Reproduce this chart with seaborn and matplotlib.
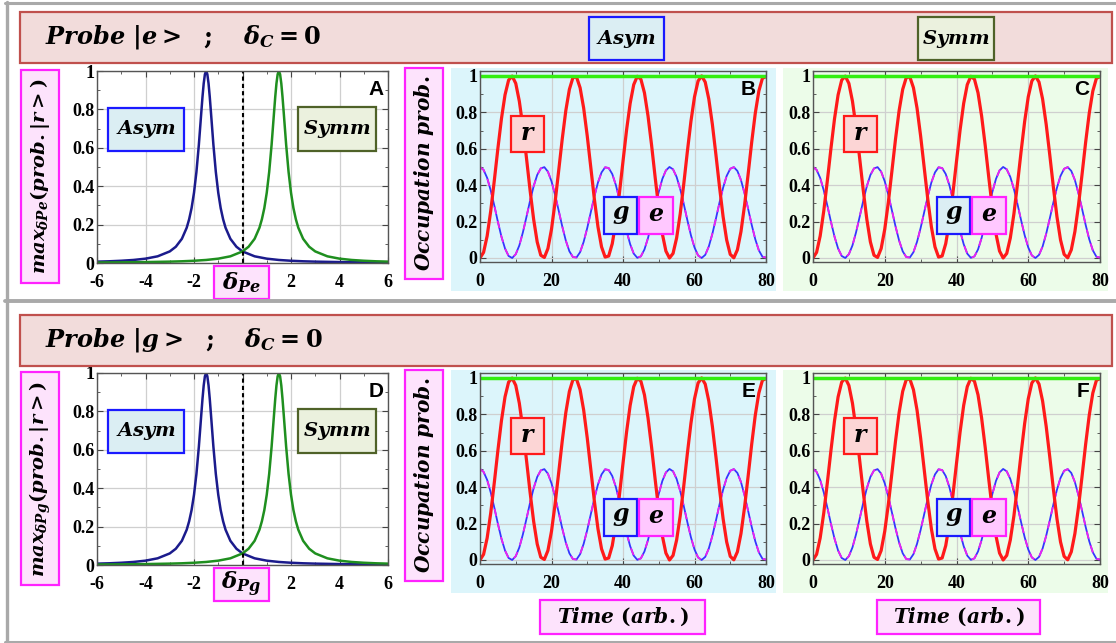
import matplotlib
matplotlib.use("Agg")
import matplotlib.pyplot as plt
import seaborn as sns
from matplotlib.patches import Rectangle
from matplotlib.lines import Line2D
from matplotlib.ticker import MultipleLocator, FuncFormatter

# ---------------- data ----------------
detuning_asym = [-6.0, -5.5, -5.0, -4.5, -4.0, -3.5, -3.0, -2.75, -2.5, -2.3, -2.2, -2.1,
                 -2.0, -1.9, -1.8, -1.7, -1.65, -1.6, -1.55, -1.5, -1.45, -1.4, -1.35,
                 -1.3, -1.2, -1.1, -1.0, -0.9, -0.8, -0.7, -0.5, -0.25, 0.0, 0.5, 1.0,
                 1.5, 2.0, 2.5, 3.0, 4.0, 5.0, 6.0]
prob_asym = [0.0071, 0.0089, 0.0117, 0.0158, 0.0226, 0.0348, 0.0603, 0.0846, 0.126, 0.184,
             0.228, 0.286, 0.366, 0.474, 0.616, 0.783, 0.865, 0.935, 0.983, 1.0, 0.983,
             0.935, 0.865, 0.783, 0.616, 0.474, 0.366, 0.286, 0.228, 0.184, 0.126, 0.0846,
             0.0603, 0.0348, 0.0226, 0.0158, 0.0117, 0.0089, 0.0071, 0.0048, 0.0034, 0.0026]
detuning_symm = [-6.0, -5.0, -4.0, -3.0, -2.5, -2.0, -1.5, -1.0, -0.5, 0.0, 0.25, 0.5, 0.7,
                 0.8, 0.9, 1.0, 1.1, 1.2, 1.3, 1.35, 1.4, 1.45, 1.5, 1.55, 1.6, 1.65, 1.7,
                 1.8, 1.9, 2.0, 2.1, 2.2, 2.3, 2.5, 2.75, 3.0, 3.5, 4.0, 4.5, 5.0, 5.5, 6.0]
prob_symm = [0.0026, 0.0034, 0.0048, 0.0071, 0.0089, 0.0117, 0.0158, 0.0226, 0.0348, 0.0603,
             0.0846, 0.126, 0.184, 0.228, 0.286, 0.366, 0.474, 0.616, 0.783, 0.865, 0.935,
             0.983, 1.0, 0.983, 0.935, 0.865, 0.783, 0.616, 0.474, 0.366, 0.286, 0.228,
             0.184, 0.126, 0.0846, 0.0603, 0.0348, 0.0226, 0.0158, 0.0117, 0.0089, 0.0071]

time = list(range(81))
prob_r = [0.000, 0.031, 0.121, 0.258, 0.425, 0.601, 0.765, 0.896, 0.977, 0.999,
          0.959, 0.861, 0.719, 0.549, 0.373, 0.213, 0.088, 0.015, 0.003, 0.052,
          0.158, 0.306, 0.478, 0.653, 0.809, 0.926, 0.991, 0.994, 0.935, 0.823,
          0.670, 0.496, 0.322, 0.171, 0.061, 0.005, 0.011, 0.079, 0.198, 0.356,
          0.531, 0.703, 0.849, 0.952, 0.998, 0.982, 0.907, 0.780, 0.619, 0.442,
          0.273, 0.133, 0.038, 0.000, 0.025, 0.110, 0.242, 0.407, 0.584, 0.750,
          0.885, 0.972, 1.000, 0.966, 0.873, 0.734, 0.566, 0.390, 0.227, 0.099,
          0.020, 0.001, 0.045, 0.145, 0.289, 0.460, 0.636, 0.795, 0.917, 0.987,
          0.996]
prob_g = [0.500, 0.484, 0.440, 0.371, 0.288, 0.199, 0.117, 0.052, 0.011, 0.000,
          0.021, 0.069, 0.141, 0.226, 0.314, 0.394, 0.456, 0.492, 0.499, 0.474,
          0.421, 0.347, 0.261, 0.174, 0.096, 0.037, 0.005, 0.003, 0.032, 0.089,
          0.165, 0.252, 0.339, 0.415, 0.470, 0.498, 0.494, 0.461, 0.401, 0.322,
          0.235, 0.149, 0.076, 0.024, 0.001, 0.009, 0.047, 0.110, 0.191, 0.279,
          0.363, 0.434, 0.481, 0.500, 0.487, 0.445, 0.379, 0.296, 0.208, 0.125,
          0.058, 0.014, 0.000, 0.017, 0.063, 0.133, 0.217, 0.305, 0.386, 0.451,
          0.490, 0.499, 0.478, 0.428, 0.355, 0.270, 0.182, 0.103, 0.042, 0.007,
          0.002]
prob_e = [0.500, 0.484, 0.440, 0.371, 0.288, 0.199, 0.117, 0.052, 0.011, 0.000,
          0.021, 0.069, 0.141, 0.226, 0.314, 0.394, 0.456, 0.492, 0.499, 0.474,
          0.421, 0.347, 0.261, 0.174, 0.096, 0.037, 0.005, 0.003, 0.032, 0.089,
          0.165, 0.252, 0.339, 0.415, 0.470, 0.498, 0.494, 0.461, 0.401, 0.322,
          0.235, 0.149, 0.076, 0.024, 0.001, 0.009, 0.047, 0.110, 0.191, 0.279,
          0.363, 0.434, 0.481, 0.500, 0.487, 0.445, 0.379, 0.296, 0.208, 0.125,
          0.058, 0.014, 0.000, 0.017, 0.063, 0.133, 0.217, 0.305, 0.386, 0.451,
          0.490, 0.499, 0.478, 0.428, 0.355, 0.270, 0.182, 0.103, 0.042, 0.007,
          0.002]
total_time = [0, 80]
total_prob = [1.0, 1.0]

row_titles = [r"$Probe\ |e>\ \ ;\ \ \ \delta_C = 0$", r"$Probe\ |g>\ \ ;\ \ \ \delta_C = 0$"]
det_labels = [r"$\delta_{Pe}$", r"$\delta_{Pg}$"]
max_labels = [r"$max_{\delta Pe}(prob.|r>)$", r"$max_{\delta Pg}(prob.|r>)$"]
panel_letters = [["A", "B", "C"], ["D", "E", "F"]]

# ---------------- style ----------------
sns.set_style("ticks")
plt.rcParams["font.family"] = ["Liberation Serif", "DejaVu Sans"]
plt.rcParams.update({
    "font.weight": "bold",
    "text.color": "black",
    "xtick.color": "black",
    "ytick.color": "black",
    "axes.unicode_minus": False,
    "mathtext.fontset": "custom",
    "mathtext.it": "DejaVu Serif:italic:bold",
    "mathtext.rm": "DejaVu Serif:bold",
    "mathtext.bf": "DejaVu Serif:italic:bold",
})

W, H = 1116, 643
fig = plt.figure(figsize=(W / 100, H / 100), dpi=100)


def rect_px(x0, y0, x1, y1):
    return [x0 / W, 1 - y1 / H, (x1 - x0) / W, (y1 - y0) / H]


def box(x0, y0, x1, y1, fc, ec, lw=1.6, z=2):
    fig.add_artist(Rectangle((x0 / W, 1 - y1 / H), (x1 - x0) / W, (y1 - y0) / H,
                             transform=fig.transFigure, facecolor=fc, edgecolor=ec,
                             linewidth=lw, zorder=z))


def boxed_text(x0, y0, x1, y1, s, fc, ec, size, rot=0, lw=1.6, z=3):
    box(x0, y0, x1, y1, fc, ec, lw, z)
    fig.text((x0 + x1) / 2 / W, 1 - (y0 + y1) / 2 / H, s, ha="center", va="center",
             rotation=rot, fontsize=size, zorder=z + 0.5, color="black")


def hline(x0, x1, y, lw, color="#a9a9a9"):
    fig.add_artist(Line2D([x0 / W, x1 / W], [1 - y / H, 1 - y / H], transform=fig.transFigure,
                          color=color, lw=lw, zorder=5))


def vline(x, y0, y1, lw, color="#a9a9a9"):
    fig.add_artist(Line2D([x / W, x / W], [1 - y0 / H, 1 - y1 / H], transform=fig.transFigure,
                          color=color, lw=lw, zorder=5))


fmt = FuncFormatter(lambda v, p: "%g" % round(v, 2))
fmt_det = FuncFormatter(lambda v, p: "" if abs(v) < 1e-9 else "%g" % round(v, 2))


def style_axes(ax, xmaj, xmin, xfmt=fmt):
    ax.set_facecolor("none")
    ax.xaxis.set_major_locator(MultipleLocator(xmaj))
    ax.xaxis.set_minor_locator(MultipleLocator(xmin))
    ax.yaxis.set_major_locator(MultipleLocator(0.2))
    ax.yaxis.set_minor_locator(MultipleLocator(0.1))
    ax.xaxis.set_major_formatter(xfmt)
    ax.yaxis.set_major_formatter(fmt)
    ax.tick_params(which="both", direction="in", top=True, right=True, color="#444444",
                   labelcolor="black")
    ax.tick_params(which="major", length=4, width=0.8, labelsize=13)
    ax.tick_params(which="minor", length=2, width=0.6)
    ax.tick_params(axis="x", which="major", pad=8)
    ax.tick_params(axis="y", which="major", pad=2)
    ax.grid(which="major", color="#cfcfcf", lw=0.9)
    ax.set_axisbelow(True)
    for s in ax.spines.values():
        s.set_color("#555555")
        s.set_linewidth(1.0)
    ax.set_xlabel("")
    ax.set_ylabel("")


# outer frame
hline(5, W, 3, 2.2)
hline(5, W, 301, 2.8)
hline(5, W, 641.5, 2.2)
vline(6.5, 2, 643, 2.4)

for row in range(2):
    dy = 0 if row == 0 else 302
    hdy = 0 if row == 0 else 303

    # header bar
    box(20, 12 + hdy, 1112, 63 + hdy, "#f2dcdb", "#c0504d", lw=1.6, z=1)
    fig.text(45 / W, 1 - (37 + hdy) / H, row_titles[row], ha="left", va="center",
             fontsize=17.3, zorder=2, color="black")
    if row == 0:
        boxed_text(589, 17, 664, 60, r"$Asym$", "#dbeef3", "#1a1aff", 14)
        boxed_text(918, 17, 994, 60, r"$Symm$", "#ebf1de", "#4f6228", 14)

    # ---- left panel: max probability vs detuning ----
    axL = fig.add_axes(rect_px(97, 71 + dy, 388, 263 + dy))
    sns.lineplot(x=detuning_asym, y=prob_asym, ax=axL, color="#1b1b8c", linewidth=1.8,
                 estimator=None, sort=False)
    sns.lineplot(x=detuning_symm, y=prob_symm, ax=axL, color="#1f8f1f", linewidth=1.8,
                 estimator=None, sort=False)
    axL.axvline(0, color="black", lw=1.5, ls=(0, (2, 1.5)))
    axL.set_xlim(-6, 6)
    axL.set_ylim(0, 1)
    style_axes(axL, 2, 1, fmt_det)
    axL.text(0.986, 0.955, panel_letters[row][0], transform=axL.transAxes, ha="right",
             va="top", fontsize=15, family="Liberation Sans", weight="bold", color="black")

    boxed_text(21, 70 + dy, 59, 283 + dy, max_labels[row], "#fde3fc", "#ff22ff", 14, rot=90)
    boxed_text(214, 266 + dy, 269, 299 + dy, det_labels[row], "#fde3fc", "#ff22ff", 16.5)
    boxed_text(108, 108 + dy, 184, 151 + dy, r"$Asym$", "#dbeef3", "#1a1aff", 14)
    boxed_text(298, 107 + dy, 376, 151 + dy, r"$Symm$", "#ebf1de", "#4f6228", 14)

    # ---- time evolution panels ----
    for k, (x0, x1, bx0, bx1, bg) in enumerate([(480, 766, 451, 776, "#dcf5fb"),
                                                (813, 1100, 783, 1108, "#ecfce9")]):
        box(bx0, 68 + dy, bx1, 291 + dy, bg, "none", lw=0, z=-1)
        ax = fig.add_axes(rect_px(x0, 71 + dy, x1, 262 + dy))
        sns.lineplot(x=time, y=prob_g, ax=ax, color="#3535ff", linewidth=1.3,
                     estimator=None, sort=False)
        sns.lineplot(x=time, y=prob_e, ax=ax, color="#ee22ee", linewidth=1.3,
                     linestyle=(0, (4, 4)), estimator=None, sort=False)
        sns.lineplot(x=time, y=prob_r, ax=ax, color="#ff1a1a", linewidth=2.3,
                     estimator=None, sort=False)
        sns.lineplot(x=total_time, y=total_prob, ax=ax, color="#33ee11", linewidth=2.5,
                     estimator=None, sort=False)
        ax.set_xlim(0, 80)
        ax.set_ylim(-0.022, 1.027)
        style_axes(ax, 20, 10)
        ax.text(0.963, 0.955, panel_letters[row][k + 1], transform=ax.transAxes,
                ha="right", va="top", fontsize=15, family="Liberation Sans", weight="bold",
                color="black")

        off = x0 - 480
        boxed_text(511 + off, 116 + dy, 544 + off, 152 + dy, r"$r$", "#fcd5d5", "#ff1a1a", 17)
        boxed_text(604 + off, 197 + dy, 637 + off, 234 + dy, r"$g$", "#dbeef3", "#1a1aff", 17)
        boxed_text(639 + off, 197 + dy, 673 + off, 234 + dy, r"$e$", "#ffc8ff", "#ff22ff", 17)

    boxed_text(405, 68 + dy, 443, 279 + dy, r"$Occupation\ prob.$", "#fde3fc", "#ff22ff",
               14.5, rot=90)

boxed_text(540, 600, 705, 634, r"$Time\ (arb.)$", "#fde3fc", "#ff22ff", 14.5)
boxed_text(877, 600, 1040, 634, r"$Time\ (arb.)$", "#fde3fc", "#ff22ff", 14.5)

fig.savefig("out.png", dpi=100)
